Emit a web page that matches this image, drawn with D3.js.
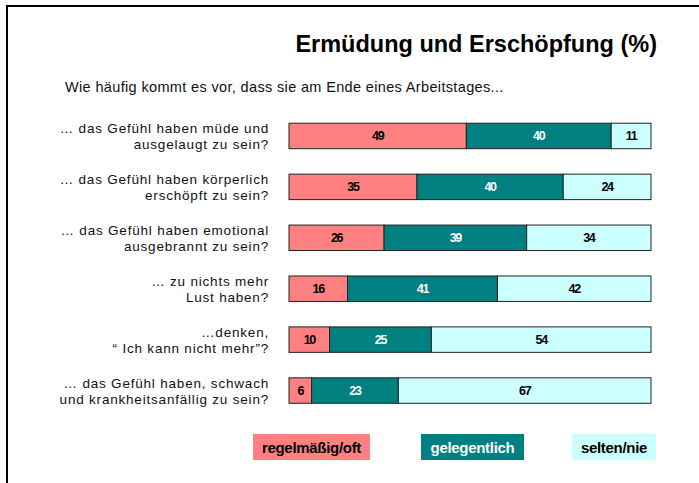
<!DOCTYPE html>
<html>
<head>
<meta charset="utf-8">
<script src="https://cdn.jsdelivr.net/npm/d3@7"></script>
<style>
  body { margin: 0; background: #fff; }
  svg { display: block; font-family: "Liberation Sans", Arial, sans-serif; }
</style>
</head>
<body>
<div id="chart"></div>
<script>
const WIDTH = 699
const HEIGHT = 483

// data
const categories = [
  ['… das Gefühl haben müde und', 'ausgelaugt zu sein?'],
  ['… das Gefühl haben körperlich', 'erschöpft zu sein?'],
  ['… das Gefühl haben emotional', 'ausgebrannt zu sein?'],
  ['… zu nichts mehr', 'Lust haben?'],
  ['…denken,', '“ Ich kann nicht mehr”?'],
  ['… das Gefühl haben, schwach', 'und krankheitsanfällig zu sein?']
]
const seriesNames = ['regelmäßig/oft', 'gelegentlich', 'selten/nie']
const regelmaessig = [49, 35, 26, 16, 10, 6]
const gelegentlich = [40, 40, 39, 41, 25, 23]
const selten = [11, 24, 34, 42, 54, 67]

const COLORS = ['#ff8080', '#008080', '#ccffff']
const TEXT_COLORS = ['#000', '#fff', '#000']

const svg = d3.select('#chart')
  .append('svg')
  .attr('width', WIDTH)
  .attr('height', HEIGHT)

// frame (top + left only)
svg.append('path')
  .attr('d', `M7,${HEIGHT} V6 H${WIDTH}`)
  .attr('fill', 'none')
  .attr('stroke', '#000')
  .attr('stroke-width', 2)

svg.append('text')
  .attr('x', 657).attr('y', 52)
  .attr('text-anchor', 'end')
  .attr('font-size', 23.5)
  .attr('font-weight', 'bold')
  .text('Ermüdung und Erschöpfung (%)')

svg.append('text')
  .attr('x', 65).attr('y', 92)
  .attr('font-size', 14.5)
  .attr('letter-spacing', 0.35)
  .attr('fill', '#111')
  .text('Wie häufig kommt es vor, dass sie am Ende eines Arbeitstages...')

const y = d3.scaleBand()
  .domain(d3.range(categories.length))
  .range([110.5, 416])
  .paddingInner(0.5)
  .paddingOuter(0.25)

const x = d3.scaleLinear().domain([0, 1]).range([289, 651])

// bars are drawn as shares of each row's total
const rows = categories.map((c, i) => {
  const vals = [regelmaessig[i], gelegentlich[i], selten[i]]
  const total = d3.sum(vals)
  let acc = 0
  return vals.map((v, k) => {
    const seg = { row: i, k, v, x0: acc / total, x1: (acc + v) / total }
    acc += v
    return seg
  })
})

const segs = svg.append('g').selectAll('g')
  .data(rows.flat())
  .join('g')

segs.append('rect')
  .attr('x', d => x(d.x0))
  .attr('y', d => y(d.row))
  .attr('width', d => x(d.x1) - x(d.x0))
  .attr('height', y.bandwidth())
  .attr('fill', d => COLORS[d.k])
  .attr('stroke', '#222')
  .attr('stroke-width', 1)

segs.append('text')
  .attr('x', d => (x(d.x0) + x(d.x1)) / 2)
  .attr('y', d => y(d.row) + y.bandwidth() / 2 + 4.5)
  .attr('text-anchor', 'middle')
  .attr('font-size', 12.5)
  .attr('font-weight', 'bold')
  .attr('letter-spacing', -1.3)
  .attr('fill', d => TEXT_COLORS[d.k])
  .text(d => d.v)

// category labels, two lines, right aligned
const labels = svg.append('g').selectAll('text')
  .data(categories)
  .join('text')
  .attr('text-anchor', 'end')
  .attr('font-size', 13.5)
  .attr('letter-spacing', 0.8)
  .attr('fill', '#111')

labels.selectAll('tspan')
  .data((d, i) => d.map((line, j) => ({ line, j, i })))
  .join('tspan')
  .attr('x', 269)
  .attr('y', d => y(d.i) + y.bandwidth() / 2 - 2.5 + d.j * 15.5)
  .text(d => d.line)

// legend
const legendX = [253, 421, 572]
const legendW = [117, 103, 84]
const lg = svg.append('g').selectAll('g')
  .data(seriesNames)
  .join('g')

lg.append('rect')
  .attr('x', (d, i) => legendX[i])
  .attr('y', 434)
  .attr('width', (d, i) => legendW[i])
  .attr('height', 26)
  .attr('fill', (d, i) => COLORS[i])

lg.append('text')
  .attr('x', (d, i) => legendX[i] + legendW[i] / 2)
  .attr('y', 452.5)
  .attr('text-anchor', 'middle')
  .attr('font-size', 15)
  .attr('font-weight', 'bold')
  .attr('letter-spacing', -0.3)
  .attr('fill', (d, i) => TEXT_COLORS[i])
  .text(d => d)
</script>
</body>
</html>
